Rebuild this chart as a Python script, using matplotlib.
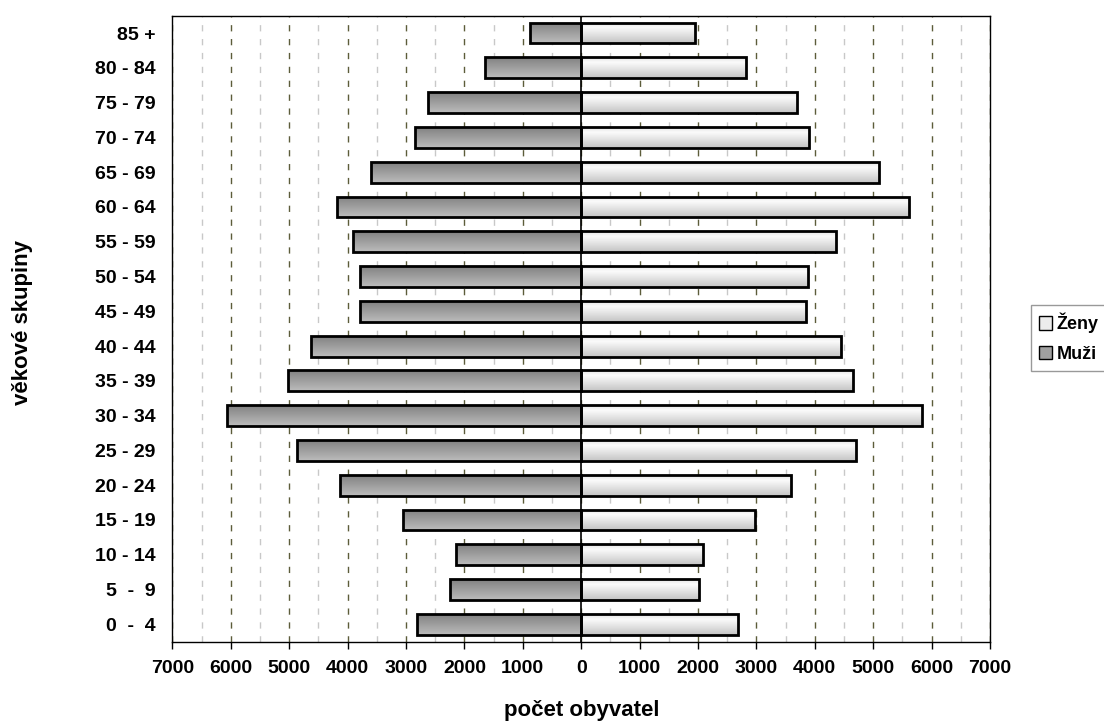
"""Věková pyramida obyvatel: muži vlevo, ženy vpravo."""
import matplotlib
matplotlib.use('Agg')
import matplotlib.pyplot as plt
import matplotlib.ticker as mticker
from matplotlib.colors import LinearSegmentedColormap
from matplotlib.patches import Patch
import numpy as np

# --- Data (bottom to top) ---
ages = ['0  -  4', '5  -  9', '10 - 14', '15 - 19', '20 - 24', '25 - 29',
        '30 - 34', '35 - 39', '40 - 44', '45 - 49', '50 - 54', '55 - 59',
        '60 - 64', '65 - 69', '70 - 74', '75 - 79', '80 - 84', '85 +']
muzi = [2820, 2240, 2150, 3060, 4135, 4875, 6070, 5020, 4630, 3780,
        3790, 3900, 4175, 3600, 2850, 2620, 1650, 880]
zeny = [2690, 2020, 2090, 2980, 3590, 4705, 5835, 4655, 4450, 3850,
        3890, 4360, 5610, 5100, 3900, 3695, 2825, 1955]

xticks = np.arange(-7000, 7001, 1000)

# --- Style ---
FONT = ['Liberation Sans', 'DejaVu Sans']
plt.rcParams.update({
    'font.family': FONT,
    'font.weight': 'bold',
    'font.size': 14,
})

MAJOR_GRID = '#5c5c3a'
MINOR_GRID = '#c8c8c8'

cmap_m = LinearSegmentedColormap.from_list(
    'muzi', [(0.0, '#bcbcbc'), (0.85, '#8a8a8a'), (1.0, '#7c7c7c')])
cmap_z = LinearSegmentedColormap.from_list(
    'zeny', [(0.0, '#c4c4c4'), (0.75, '#fbfbfb'), (1.0, '#e4e4e4')])

fig = plt.figure(figsize=(11.04, 7.22), dpi=100, facecolor='white')
ax = fig.add_axes([0.1562, 0.1112, 0.7405, 0.8671])

y = np.arange(len(ages))
bar_h = 0.6

bars_m = ax.barh(y, -np.array(muzi), height=bar_h, facecolor='none',
                 edgecolor='black', linewidth=2.0, zorder=3)
bars_z = ax.barh(y, zeny, height=bar_h, facecolor='none',
                 edgecolor='black', linewidth=2.0, zorder=3)

# vertical gradient fill clipped to each bar
grad = np.linspace(0, 1, 64).reshape(-1, 1)
for bars, cmap in ((bars_m, cmap_m), (bars_z, cmap_z)):
    for b in bars:
        x0 = b.get_x()
        x1 = x0 + b.get_width()
        y0 = b.get_y()
        y1 = y0 + b.get_height()
        im = ax.imshow(grad, cmap=cmap, aspect='auto', origin='lower',
                       extent=[min(x0, x1), max(x0, x1), y0, y1],
                       zorder=2.5, interpolation='bilinear')
        im.set_clip_path(b)

ax.axvline(0, color='black', linewidth=1.2, zorder=4)

ax.set_xlim(-7000, 7000)
ax.set_ylim(-0.5, len(ages) - 0.5)

ax.set_xticks(xticks)
ax.xaxis.set_minor_locator(mticker.MultipleLocator(500))
ax.xaxis.set_major_formatter(mticker.FuncFormatter(lambda v, p: f'{abs(int(round(v)))}'))
ax.set_yticks(y)
ax.set_yticklabels(ages)

ax.tick_params(axis='x', which='major', direction='out', length=5,
               width=1, color='black', pad=8, labelsize=14)
ax.tick_params(axis='x', which='minor', length=0)
ax.tick_params(axis='y', length=0, pad=12, labelsize=14)

ax.grid(axis='x', which='major', color=MAJOR_GRID, linewidth=1.0,
        linestyle=(0, (4.5, 5.5)), zorder=0)
ax.grid(axis='x', which='minor', color=MINOR_GRID, linewidth=1.0,
        linestyle=(0, (4.5, 5.5)), zorder=0)
ax.set_axisbelow(True)

for s in ax.spines.values():
    s.set_color('black')
    s.set_linewidth(1.0)

fig.text(0.5265, 0.0166, 'počet obyvatel', ha='center', va='center',
         fontsize=16, fontweight='bold')
fig.text(0.020, 0.553, 'věkové skupiny', ha='center', va='center',
         rotation=90, fontsize=16, fontweight='bold')

handles = [Patch(facecolor='#ececec', edgecolor='black', linewidth=1.0, label='Ženy'),
           Patch(facecolor='#a0a0a0', edgecolor='black', linewidth=1.0, label='Muži')]
leg = fig.legend(handles=handles, loc='center left', bbox_to_anchor=(0.9335, 0.532),
                 fontsize=13, frameon=True, fancybox=False, handlelength=0.75,
                 handleheight=0.75, handletextpad=0.25, borderpad=0.45,
                 labelspacing=0.7, borderaxespad=0)
leg.get_frame().set_edgecolor('#808080')
leg.get_frame().set_linewidth(1.0)

fig.savefig('out.png', dpi=100, facecolor='white')
